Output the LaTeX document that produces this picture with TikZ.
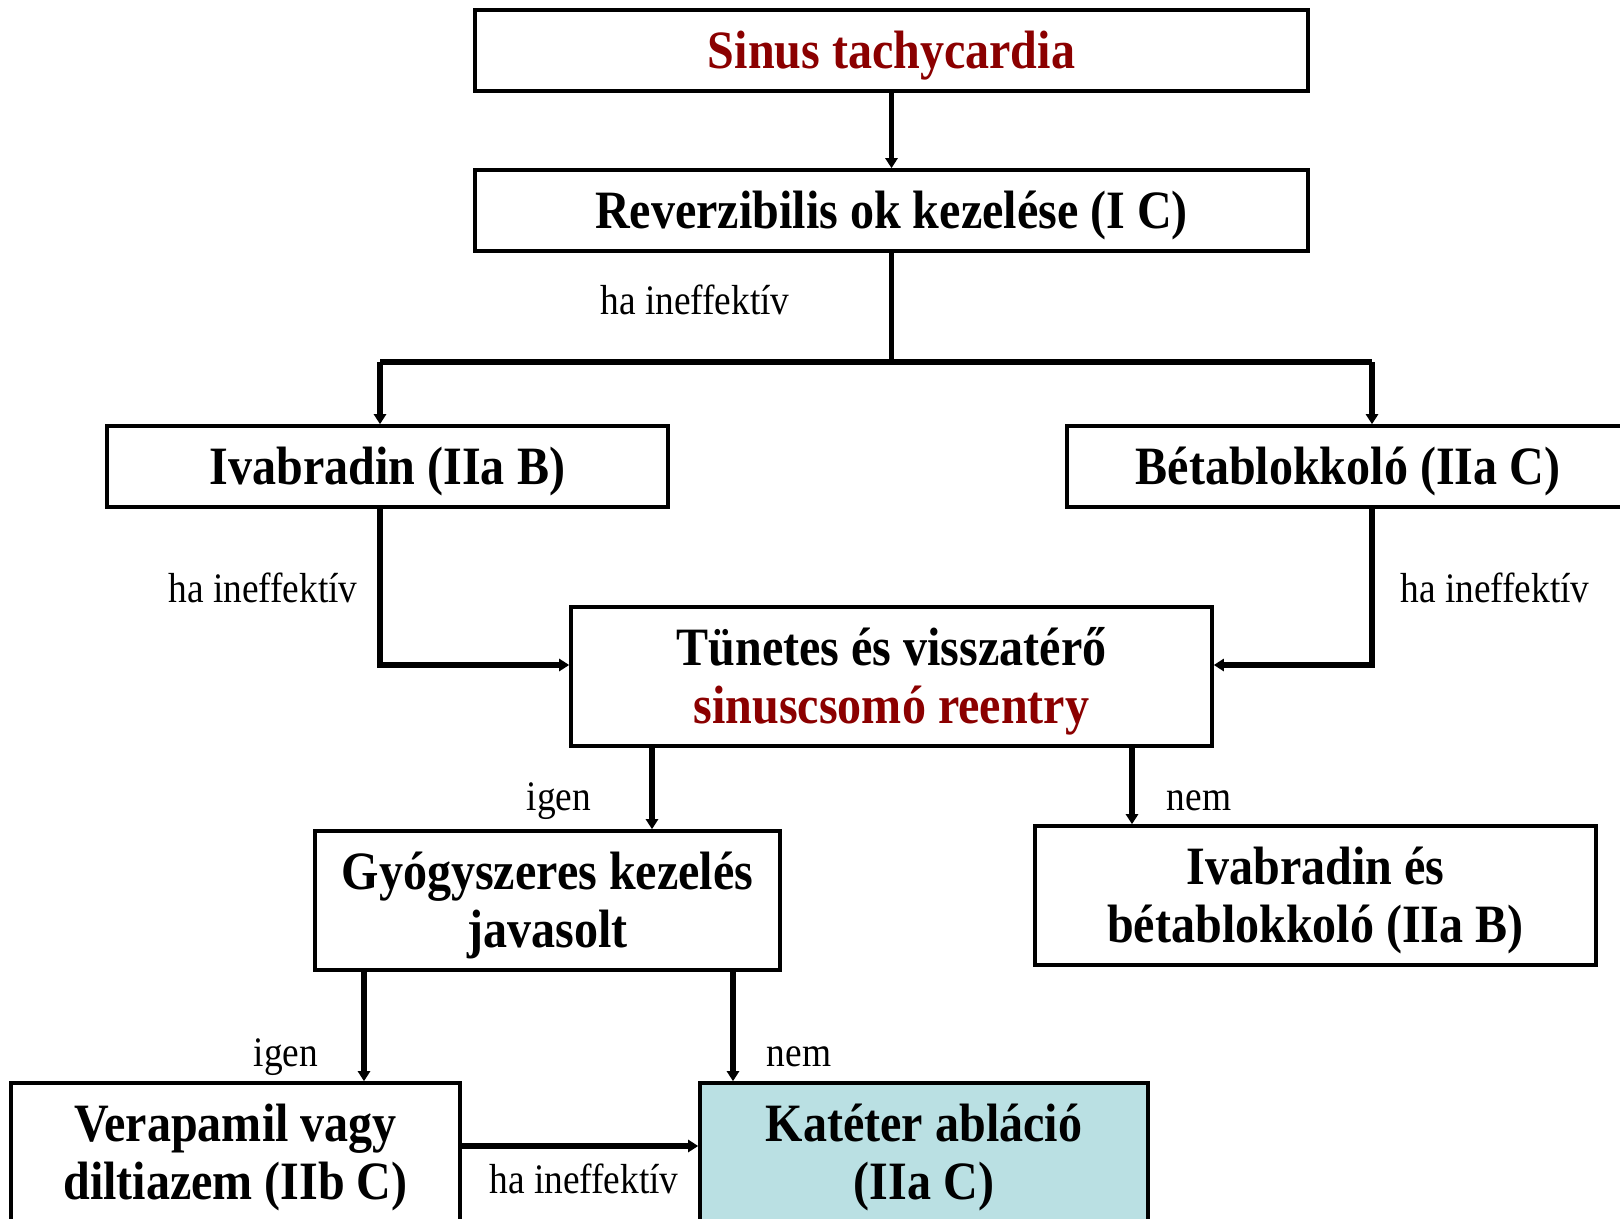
\documentclass[tikz,border=0pt]{standalone}
\usepackage{fontspec}
\setmainfont{Liberation Serif}
\newfontfamily\stretchserif[FakeStretch=0.89]{Liberation Serif}
\usetikzlibrary{arrows.meta}
\definecolor{dred}{HTML}{8B0000}
\definecolor{kblue}{HTML}{BAE0E3}
\tikzset{
  box/.style={draw=black, line width=1.8pt, fill=white, inner sep=0pt},
  btext/.style={inner sep=0pt, align=center, yshift=-2.6pt,
    font=\stretchserif\fontsize{27}{29}\selectfont\bfseries},
  arr/.style={line width=2.6pt, -{Triangle[length=5pt,width=6pt]}},
  lbl/.style={font=\stretchserif\fontsize{21}{24}\selectfont, inner sep=0pt}
}
\begin{document}
\begin{tikzpicture}[x=0.5pt,y=-0.5pt]
\useasboundingbox (0,0) rectangle (1620,1219);
\fill[white] (0,0) rectangle (1620,1219);
\clip (0,0) rectangle (1620,1219);

\node[box, minimum width=416.5pt, minimum height=40.5pt] (sin) at (891.5,50.5) {};
\node[btext] (sinT) at (sin.center) {\textcolor{dred}{Sinus tachycardia}};
\node[box, minimum width=416.5pt, minimum height=40.5pt] (rev) at (891.5,210.5) {};
\node[btext] (revT) at (rev.center) {Reverzibilis ok kezelése (I C)};
\node[box, minimum width=280.5pt, minimum height=40.5pt] (iva) at (387.5,466.5) {};
\node[btext] (ivaT) at (iva.center) {Ivabradin (IIa B)};
\node[box, minimum width=281pt, minimum height=40.5pt] (beta) at (1348,466.5) {};
\node[btext] (betaT) at (beta.center) {Bétablokkoló (IIa C)};
\node[box, minimum width=320.5pt, minimum height=69.5pt] (tun) at (891.5,676.5) {};
\node[btext] (tunT) at (tun.center) {Tünetes és visszatérő\\\textcolor{dred}{sinuscsomó reentry}};
\node[box, minimum width=232.5pt, minimum height=69.5pt] (gy) at (547.5,900.5) {};
\node[btext] (gyT) at (gy.center) {Gyógyszeres kezelés\\javasolt};
\node[box, minimum width=280.5pt, minimum height=69.5pt] (ivb) at (1315.5,895.5) {};
\node[btext] (ivbT) at (ivb.center) {Ivabradin és\\bétablokkoló (IIa B)};
\node[box, minimum width=224.5pt, minimum height=69.5pt] (ver) at (235.5,1152.5) {};
\node[btext] (verT) at (ver.center) {Verapamil vagy\\diltiazem (IIb C)};
\node[box, fill=kblue, minimum width=224pt, minimum height=69.5pt] (kat) at (924,1152.5) {};
\node[btext] (katT) at (kat.center) {Katéter abláció\\(IIa C)};

\coordinate (jl) at (380,362);
\coordinate (jr) at (1372,362);
\coordinate (t1) at (380,665);
\coordinate (t2) at (1372,665);
\coordinate (c1) at (652,0);
\coordinate (c2) at (1132,0);
\coordinate (c3) at (364,0);
\coordinate (c4) at (733,0);
\coordinate (r1) at (0,1146);

\draw[arr] (sin.south) -- (rev.north);
\draw[line width=2.6pt] (rev.south) |- (jl);
\draw[line width=2.6pt] (rev.south) |- (jr);
\draw[arr] (jl) -- (jl |- iva.north);
\draw[arr] (jr) -- (jr |- beta.north);
\draw[arr] (jl |- iva.south) -- (t1) -- (t1 -| tun.west);
\draw[arr] (jr |- beta.south) -- (t2) -- (t2 -| tun.east);
\draw[arr] (tun.south -| c1) -- (gy.north -| c1);
\draw[arr] (tun.south -| c2) -- (ivb.north -| c2);
\draw[arr] (gy.south -| c3) -- (ver.north -| c3);
\draw[arr] (gy.south -| c4) -- (kat.north -| c4);
\draw[arr] (ver.east |- r1) -- (kat.west |- r1);

\node[lbl] (l1) at (695,300) {ha ineffektív};
\node[lbl] (l2) at (263,588) {ha ineffektív};
\node[lbl] (l3) at (1495,588) {ha ineffektív};
\node[lbl] (l4) at (559,801) {igen};
\node[lbl] (l5) at (1199,801) {nem};
\node[lbl] (l6) at (286,1057) {igen};
\node[lbl] (l7) at (799,1057) {nem};
\node[lbl] (l8) at (584,1179) {ha ineffektív};
\end{tikzpicture}
\end{document}
